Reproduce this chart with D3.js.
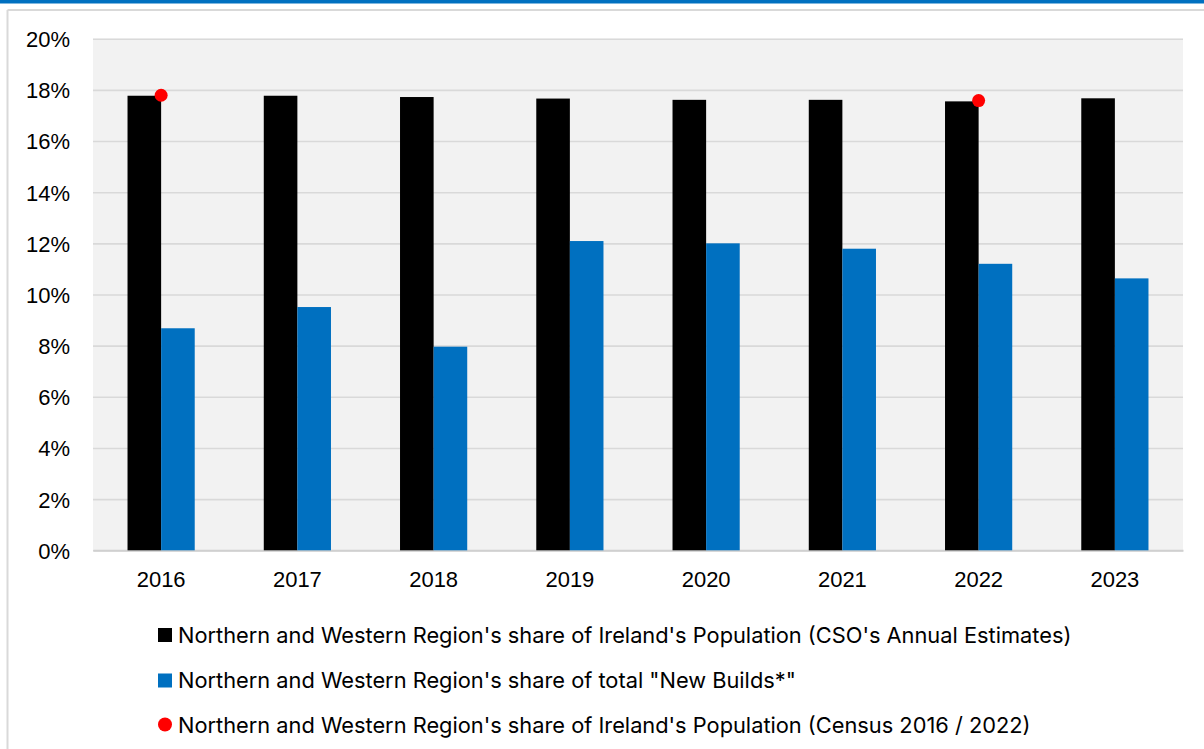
<!DOCTYPE html>
<html>
<head>
<meta charset="utf-8">
<script src="https://cdn.jsdelivr.net/npm/d3@7"></script>
<style>
  html, body { margin: 0; padding: 0; background: #ffffff; }
  svg { display: block; }
</style>
</head>
<body>
<script>
// Years on the x axis
const years = ["2016", "2017", "2018", "2019", "2020", "2021", "2022", "2023"];
// Share of Ireland's population (CSO annual estimates), %
const populationShare = [17.77, 17.77, 17.72, 17.66, 17.61, 17.61, 17.55, 17.67];
// Share of total "New Builds", %
const newBuildShare = [8.68, 9.51, 7.96, 12.09, 12.00, 11.79, 11.20, 10.63];
// Census population share (only census years)
const censusYears = ["2016", "2022"];
const censusShare = [17.79, 17.58];
// Y axis ticks
const yTicks = [0, 2, 4, 6, 8, 10, 12, 14, 16, 18, 20];
// Legend entries
const legendLabels = [
  "Northern and Western Region's share of Ireland's Population (CSO's Annual Estimates)",
  "Northern and Western Region's share of total \"New Builds*\"",
  "Northern and Western Region's share of Ireland's Population (Census 2016 / 2022)"
];

const W = 1204, H = 749;
const svg = d3.select("body").append("svg").attr("width", W).attr("height", H);

// top accent stripe and panel frame
svg.append("rect").attr("x", 0).attr("y", 0).attr("width", W).attr("height", 3.5).attr("fill", "#0070C0");
svg.append("line").attr("x1", 7.5).attr("x2", W).attr("y1", 10).attr("y2", 10)
  .attr("stroke", "#d9d9d9").attr("stroke-width", 2);
svg.append("line").attr("x1", 7.5).attr("x2", 7.5).attr("y1", 10).attr("y2", H)
  .attr("stroke", "#d9d9d9").attr("stroke-width", 2);

const plot = { left: 93, right: 1183, top: 38.7, bottom: 550.3 };

const x = d3.scaleBand().domain(years).range([plot.left, plot.right]).paddingInner(0).paddingOuter(0);
const y = d3.scaleLinear().domain([0, 20]).range([plot.bottom, plot.top]);
const barW = 33.6;
const axisFont = "'Liberation Sans', Arial, sans-serif";

// plot background
svg.append("rect").attr("x", plot.left).attr("y", plot.top)
  .attr("width", plot.right - plot.left).attr("height", plot.bottom - plot.top)
  .attr("fill", "#f2f2f2");

// gridlines and y labels
const yAxis = d3.axisLeft(y).tickValues(yTicks).tickFormat(d => d + "%")
  .tickSize(-(plot.right - plot.left)).tickPadding(23);
const gy = svg.append("g").attr("transform", `translate(${plot.left},0)`).call(yAxis);
gy.select(".domain").remove();
gy.selectAll(".tick line").attr("stroke", "#d9d9d9").attr("stroke-width", 1.6);
gy.selectAll(".tick text").style("font-family", axisFont)
  .style("font-size", "22px").attr("fill", "#000").attr("dy", "0.36em");

// x axis labels
const xAxis = d3.axisBottom(x).tickSize(0).tickPadding(21);
const gx = svg.append("g").attr("transform", `translate(0,${plot.bottom})`).call(xAxis);
gx.select(".domain").attr("stroke", "#d0d0d0").attr("stroke-width", 2);
gx.selectAll(".tick text").style("font-family", axisFont)
  .style("font-size", "22px").attr("fill", "#000");

// bars
const center = d => x(d) + x.bandwidth() / 2;
svg.append("g").selectAll("rect").data(years).join("rect")
  .attr("x", d => center(d) - barW)
  .attr("width", barW)
  .attr("y", (d, i) => y(populationShare[i]))
  .attr("height", (d, i) => y(0) - y(populationShare[i]))
  .attr("fill", "#000000");

svg.append("g").selectAll("rect").data(years).join("rect")
  .attr("x", d => center(d))
  .attr("width", barW)
  .attr("y", (d, i) => y(newBuildShare[i]))
  .attr("height", (d, i) => y(0) - y(newBuildShare[i]))
  .attr("fill", "#0070C0");

// census markers
svg.append("g").selectAll("circle").data(censusYears).join("circle")
  .attr("cx", d => center(d))
  .attr("cy", (d, i) => y(censusShare[i]))
  .attr("r", 6.5)
  .attr("fill", "#ff0000");

// legend
const legendFont = "Inter, 'Noto Sans', sans-serif";
const lg = svg.append("g");
const rowY = [635, 680.5, 725.5];
legendLabels.forEach((label, i) => {
  const cy = rowY[i];
  if (i === 0) lg.append("rect").attr("x", 158).attr("y", cy - 7).attr("width", 14).attr("height", 14).attr("fill", "#000");
  if (i === 1) lg.append("rect").attr("x", 158).attr("y", cy - 7).attr("width", 14).attr("height", 14).attr("fill", "#0070C0");
  if (i === 2) lg.append("circle").attr("cx", 165).attr("cy", cy - 1).attr("r", 7).attr("fill", "#ff0000");
  lg.append("text").attr("x", 178).attr("y", cy + 7.5)
    .style("font-family", legendFont).style("font-size", "21.8px").attr("fill", "#000")
    .text(label);
});
</script>
</body>
</html>
